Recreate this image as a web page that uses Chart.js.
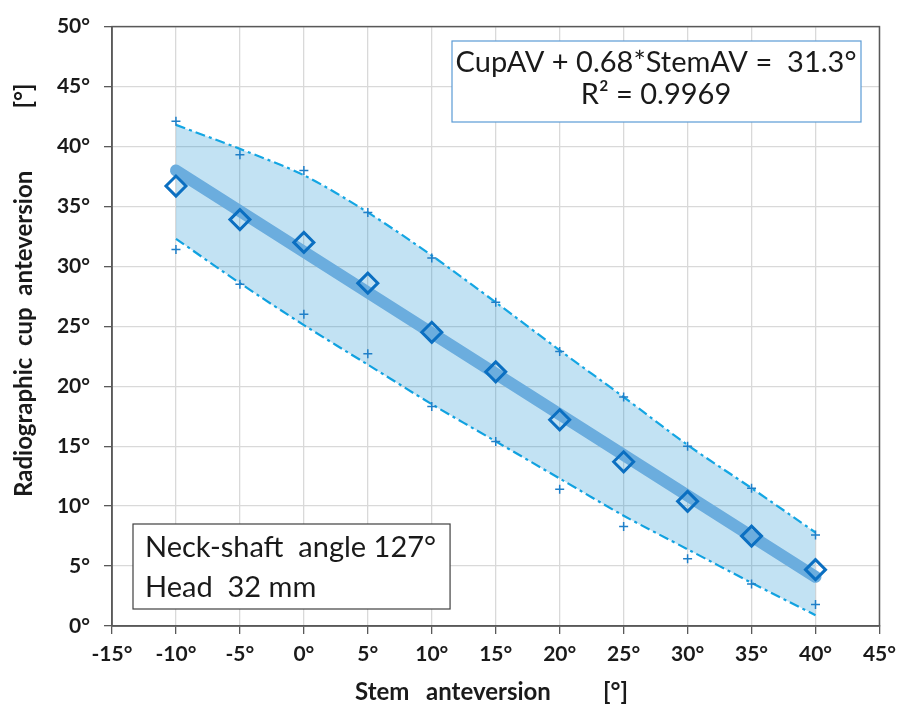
<!DOCTYPE html>
<html>
<head>
<meta charset="utf-8">
<script src="https://cdn.jsdelivr.net/npm/chart.js@4.4.1/dist/chart.umd.min.js"></script>
<style>
body { margin: 0; background: #fff; }
</style>
</head>
<body>
<canvas id="chart" width="904" height="707"></canvas>
<script>
// stem anteversion (deg) and cup anteversion values
const stem_av = [-10, -5, 0, 5, 10, 15, 20, 25, 30, 35, 40];
const cup_av = [36.7, 33.9, 32.0, 28.6, 24.5, 21.2, 17.2, 13.7, 10.4, 7.5, 4.7];
const cup_max = [42.1, 39.3, 38.0, 34.5, 30.7, 27.0, 22.9, 19.1, 15.0, 11.5, 7.6];
const cup_min = [31.4, 28.5, 26.0, 22.7, 18.3, 15.4, 11.4, 8.3, 5.6, 3.5, 1.8];
const band_upper = [41.8, 39.8, 37.6, 34.5, 30.9, 27.0, 23.0, 19.1, 15.1, 11.5, 7.8];
const band_lower = [32.3, 28.6, 25.1, 21.8, 18.5, 15.4, 12.3, 9.2, 6.4, 3.6, 0.9];
const fit_x = [-10, 40];
const fit_y = [38.0, 4.1];

const fit_text = ['CupAV + 0.68*StemAV =  31.3°', 'R² = 0.9969'];
const note_text = ['Neck-shaft  angle 127°', 'Head  32 mm'];

function pts(xs, ys) {
    return xs.map((x, i) => ({x: x, y: ys[i]}));
}

const font_name = 'Lato';

const frame_plugin = {
    id: 'frame',
    afterDraw(chart) {
        const ctx = chart.ctx;
        const a = chart.chartArea;
        ctx.save();
        // plot frame
        ctx.strokeStyle = '#595959';
        ctx.lineWidth = 1.5;
        ctx.strokeRect(a.left, a.top, a.right - a.left, a.bottom - a.top);

        // axis titles
        ctx.fillStyle = '#1a1a1a';
        ctx.font = 'bold 24px ' + font_name;
        ctx.textBaseline = 'alphabetic';
        ctx.textAlign = 'left';
        ctx.fillText('Stem', 355, 700);
        ctx.fillText('anteversion', 426, 700);
        ctx.fillText('[°]', 603, 700);

        ctx.save();
        ctx.translate(32, 497);
        ctx.rotate(-Math.PI / 2);
        ctx.fillText('Radiographic  cup  anteversion', 0, 0);
        ctx.restore();
        ctx.save();
        ctx.translate(32, 96);
        ctx.rotate(-Math.PI / 2);
        ctx.textAlign = 'center';
        ctx.fillText('[°]', 0, 0);
        ctx.restore();

        // regression box
        ctx.font = '29px ' + font_name;
        ctx.fillStyle = '#fff';
        ctx.fillRect(452, 41, 409, 81);
        ctx.strokeStyle = '#5b9bd5';
        ctx.lineWidth = 1.2;
        ctx.strokeRect(452, 41, 409, 81);
        ctx.fillStyle = '#1a1a1a';
        ctx.textAlign = 'center';
        ctx.fillText(fit_text[0], 656, 72);
        ctx.fillText(fit_text[1], 656, 104);

        // implant box
        const w = ctx.measureText(note_text[0]).width;
        ctx.fillStyle = '#fff';
        ctx.fillRect(133, 524, w + 26, 85);
        ctx.strokeStyle = '#404040';
        ctx.lineWidth = 1.2;
        ctx.strokeRect(133, 524, w + 26, 85);
        ctx.fillStyle = '#1a1a1a';
        ctx.textAlign = 'left';
        ctx.fillText(note_text[0], 145, 557);
        ctx.fillText(note_text[1], 145, 597);
        ctx.restore();
    }
};

const chart_config = {
    type: 'scatter',
    data: {
        datasets: [{
            data: pts(stem_av, cup_av),
            pointStyle: 'rectRot',
            pointRadius: 10,
            pointBorderWidth: 3,
            borderColor: '#0b6fc1',
            backgroundColor: 'rgba(0,0,0,0)',
            showLine: false
        }, {
            data: pts(fit_x, fit_y),
            showLine: true,
            borderColor: '#6badde',
            borderWidth: 12,
            borderCapStyle: 'round',
            pointRadius: 0
        }, {
            data: pts(stem_av, cup_max),
            pointStyle: 'cross',
            pointRadius: 4.5,
            pointBorderWidth: 1.5,
            borderColor: '#1f7fc8',
            showLine: false
        }, {
            data: pts(stem_av, cup_min),
            pointStyle: 'cross',
            pointRadius: 4.5,
            pointBorderWidth: 1.5,
            borderColor: '#1f7fc8',
            showLine: false
        }, {
            data: pts(stem_av, band_upper),
            showLine: true,
            borderColor: '#14a6e3',
            borderWidth: 2.2,
            borderDash: [10, 4, 3, 4],
            tension: 0.3,
            pointRadius: 0,
            fill: '+1',
            backgroundColor: 'rgba(0,135,205,0.24)'
        }, {
            data: pts(stem_av, band_lower),
            showLine: true,
            borderColor: '#14a6e3',
            borderWidth: 2.2,
            borderDash: [10, 4, 3, 4],
            tension: 0.3,
            pointRadius: 0
        }]
    },
    options: {
        responsive: false,
        animation: false,
        layout: {
            padding: {left: 0, right: 20, top: 21, bottom: 0}
        },
        scales: {
            x: {
                type: 'linear',
                min: -15,
                max: 45,
                afterFit(scale) { scale.height = 81; },
                ticks: {
                    stepSize: 5,
                    maxRotation: 0,
                    autoSkip: false,
                    padding: 8,
                    color: '#1a1a1a',
                    font: {family: font_name, size: 21, weight: 'bold'},
                    callback: v => v + '°'
                },
                grid: {
                    color: '#d9d9d9',
                    lineWidth: 1.3,
                    tickLength: 8,
                    tickColor: '#595959'
                },
                border: {color: '#595959', width: 1.5}
            },
            y: {
                type: 'linear',
                min: 0,
                max: 50,
                afterFit(scale) { scale.width = 112; },
                ticks: {
                    stepSize: 5,
                    padding: 14,
                    color: '#1a1a1a',
                    font: {family: font_name, size: 21, weight: 'bold'},
                    callback: v => v + '°'
                },
                grid: {
                    color: '#d9d9d9',
                    lineWidth: 1.3,
                    tickLength: 8,
                    tickColor: '#595959'
                },
                border: {color: '#595959', width: 1.5}
            }
        },
        plugins: {
            legend: {display: false},
            tooltip: {enabled: false}
        }
    },
    plugins: [frame_plugin]
};

var chart = new Chart(
    document.getElementById('chart'),
    chart_config
);
</script>
</body>
</html>
